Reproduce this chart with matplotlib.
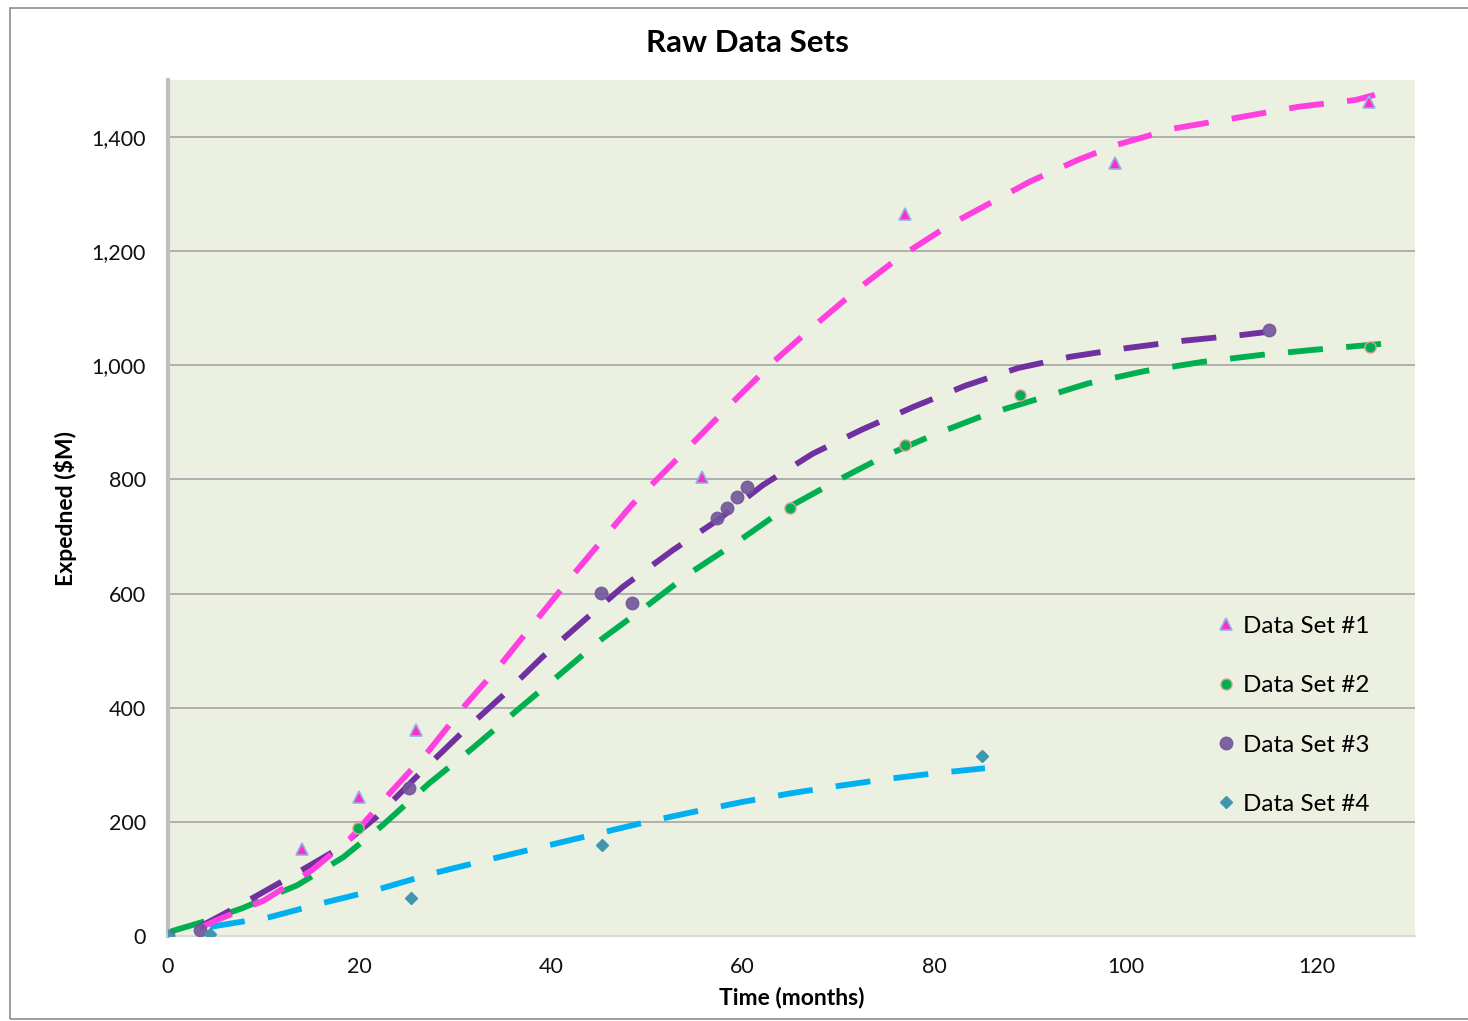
import numpy as np
import matplotlib
matplotlib.use("Agg")
import matplotlib.pyplot as plt
from matplotlib.patches import Rectangle
from matplotlib.ticker import FuncFormatter, MultipleLocator

plt.rcParams['font.family'] = ['Lato', 'DejaVu Sans']

# raw observations
ds1_x = [14.0, 19.9, 25.9, 55.8, 76.9, 98.9, 125.4]
ds1_y = [152, 244, 361, 804, 1265, 1354, 1461]
ds2_x = [0, 19.8, 64.9, 76.9, 89.0, 125.5]
ds2_y = [0, 189, 750, 860, 948, 1032]
ds3_x = [0, 3.3, 25.2, 45.2, 48.4, 57.3, 58.4, 59.4, 60.5, 115.0]
ds3_y = [0, 10, 259, 601, 583, 732, 750, 769, 787, 1062]
ds4_x = [0, 4.4, 25.4, 45.3, 85.0]
ds4_y = [0, 4, 67, 160, 315]

# trend curves
tr1_x = [3.3, 5, 10, 15, 19, 23.2, 27.3, 30.8, 34.7, 38.3, 42, 48.4, 54.8, 59, 63.2, 67.3, 71.9, 76.4, 81.6,
         90, 95, 99, 105, 112, 118, 124, 126]
tr1_y = [14, 27, 62, 115, 170, 251, 326, 400, 475, 550, 627, 755, 864, 936, 1006, 1067, 1132, 1190, 1246,
         1322, 1360, 1386, 1415, 1435, 1453, 1465, 1474]
tr2_x = [0.3, 3.7, 7.8, 13.5, 18.3, 22.4, 27.3, 31.8, 36.2, 40.6, 45.1, 49.8, 54.5, 59.4, 63.9, 69.4, 74.7,
         79.9, 85.3, 91, 96, 102, 108, 114, 119.5, 127]
tr2_y = [8, 25, 49, 89, 138, 194, 268, 329, 392, 454, 518, 576, 636, 690, 743, 794, 840,
         878, 913, 942, 968, 990, 1006, 1018, 1027, 1038]
tr3_x = [3.3, 7.2, 12.7, 17.6, 21.8, 26.3, 30.8, 35, 39.1, 43.5, 47.5, 52.7, 57.4, 62.1, 67.3, 72.4, 77.8,
         83.2, 88.7, 94.2, 100, 106, 112, 114.5]
tr3_y = [16, 51, 103, 151, 209, 285, 358, 422, 489, 554, 612, 676, 729, 790, 845, 887, 927,
         964, 995, 1015, 1030, 1043, 1053, 1058]
tr4_x = [4.4, 10.6, 16.2, 21.8, 27.7, 35, 40, 45, 50, 55, 60, 65, 70, 75, 80, 85.3]
tr4_y = [16, 33, 58, 81, 110, 140, 160, 180, 200, 218, 235, 250, 263, 275, 285, 294]

fig = plt.figure(figsize=(14.68, 10.21), dpi=100)
ax = fig.add_axes([168 / 1468, 85 / 1021, 1247 / 1468, 856 / 1021])
ax.set_facecolor('#EBF0E0')

# outer chart border
fig.patches.append(Rectangle((10 / 1468, 2 / 1021), 1.0, 1011 / 1021, transform=fig.transFigure,
                             fill=False, edgecolor='#8C8C8C', lw=1.2))

dash = (0, (6, 4))
lw = 4.2
ax.plot(tr2_x, tr2_y, color='#00B050', lw=lw, linestyle=dash, zorder=3)
ax.plot(tr3_x, tr3_y, color='#7030A0', lw=lw, linestyle=dash, zorder=3)
ax.plot(tr4_x, tr4_y, color='#00B0F0', lw=lw, linestyle=dash, zorder=3)
ax.plot(tr1_x, tr1_y, color='#FF3FDF', lw=lw, linestyle=dash, zorder=3)

ax.plot(ds1_x, ds1_y, linestyle='none', marker='^', ms=8, mfc='#FF2BCB', mec='#8EB4E3', mew=1.2,
        label='Data Set #1', zorder=4)
ax.plot(ds2_x, ds2_y, linestyle='none', marker='o', ms=8, mfc='#00B050', mec='#E39A9A', mew=1.0,
        label='Data Set #2', zorder=4)
ax.plot(ds3_x, ds3_y, linestyle='none', marker='o', ms=9, mfc='#71559A', mec='#71559A', alpha=0.9,
        label='Data Set #3', zorder=4)
ax.plot(ds4_x, ds4_y, linestyle='none', marker='D', ms=6.5, mfc='#4196AE', mec='#4196AE',
        label='Data Set #4', zorder=4)

ax.set_xlim(0, 130.2)
ax.set_ylim(0, 1500)
ax.xaxis.set_major_locator(MultipleLocator(20))
ax.yaxis.set_major_locator(MultipleLocator(200))
ax.yaxis.set_major_formatter(FuncFormatter(lambda v, p: f'{int(v):,}'))
ax.grid(axis='y', color='#A6A6A6', lw=1.2)
ax.set_axisbelow(True)
ax.tick_params(length=0, labelsize=15.5, colors='#111111')
ax.tick_params(axis='x', pad=15)
ax.tick_params(axis='y', pad=16)
for s in ['top', 'right']:
    ax.spines[s].set_visible(False)
ax.spines['left'].set_color('#BFBFBF')
ax.spines['left'].set_linewidth(3)
ax.spines['bottom'].set_color('#D9D9D9')
ax.spines['bottom'].set_linewidth(1.5)

ax.set_xlabel('Time (months)', fontsize=16.5, fontweight='bold', labelpad=7)
ax.set_ylabel('Expedned ($M)', fontsize=16.5, fontweight='bold', labelpad=10)
fig.text(747 / 1468, 1 - 43 / 1021, 'Raw Data Sets', fontsize=22.5, fontweight='bold',
         ha='center', va='center')

ax.legend(loc='upper left', bbox_to_anchor=(1041 / 1247, 1 - (606 - 80) / 856), frameon=False,
          fontsize=17.5, handlelength=0.6, handletextpad=0.4, labelspacing=1.58, borderaxespad=0)

fig.savefig('out.png', dpi=100)
